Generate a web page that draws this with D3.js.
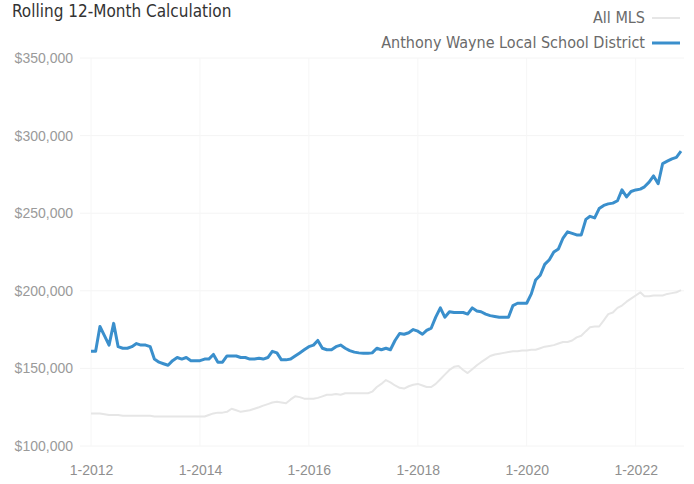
<!DOCTYPE html>
<html>
<head>
<meta charset="utf-8">
<script src="https://cdn.jsdelivr.net/npm/d3@7"></script>
<style>
  html, body { margin: 0; padding: 0; background: #fff; }
  svg { display: block; font-family: "Liberation Sans Narrow", "DejaVu Sans Condensed", "Liberation Sans", sans-serif; }
</style>
</head>
<body>
<svg id="chart" width="694" height="484"></svg>
<script>
// Monthly median sale price, rolling 12 months, Jan 2012 – Nov 2022 (in $1,000s)
const startMonth = new Date(2012, 0, 1);

const districtValues = [
  161, 161, 177, 171, 165, 179, 164, 163, 163, 164, 166, 165,
  165, 164, 156, 154, 153, 152, 155, 157, 156, 157, 155, 155,
  155, 156, 156, 159, 154, 154, 158, 158, 158, 157, 157, 156,
  156, 156.5, 156, 157, 161, 160, 155.5, 155.5, 156, 158, 160, 162,
  164, 165, 168, 163, 162, 162, 164, 165, 163, 161.5, 160.5, 160,
  159.7, 159.7, 160, 163, 162, 163, 162, 168, 172.5, 172, 173, 175,
  174, 172, 174.5, 176, 183, 189, 183, 186.5, 186, 186, 186, 185,
  189, 187, 186.5, 185, 184, 183.5, 183, 183, 183, 190.5, 192, 192,
  192, 198, 207, 210, 217, 220, 225, 227, 234, 238, 237, 236,
  236, 246, 248, 247, 253, 255, 256, 256.5, 258, 265, 260.5, 264,
  265, 265.5, 267, 270, 274, 269, 282, 283.5, 285, 286, 290
];

const allMlsValues = [
  121, 121, 121, 120.5, 120, 120, 120, 119.5, 119.5, 119.5, 119.5, 119.5,
  119.5, 119.5, 119, 119, 119, 119, 119, 119, 119, 119, 119, 119,
  119, 119, 120, 121, 121.5, 121.5, 122, 124, 123, 122, 122.5, 123,
  124, 125, 126, 127, 128, 128.5, 128, 127.5, 130, 132, 131.5, 130.5,
  130.5, 130.5, 131, 132, 133, 133, 133.5, 133, 134, 134, 134, 134,
  134, 134, 135, 138, 140, 142.5, 141, 139, 137.5, 137, 138.5, 139.5,
  140, 139, 138, 138, 140, 143, 146, 149, 151, 151.5, 149, 147,
  149.5, 152, 154, 156, 158, 159, 159.5, 160, 160.5, 161, 161, 161.5,
  161.5, 162, 162, 163, 164, 164.5, 165, 166, 167, 167, 168, 170,
  171, 174, 176.5, 177, 177, 181, 185, 186, 189, 190.5, 193, 195,
  197, 199, 196.5, 196.5, 197, 197, 197, 198, 198.5, 199, 200.5
];

const yTicks = [100000, 150000, 200000, 250000, 300000, 350000];
const xTickYears = [2012, 2014, 2016, 2018, 2020, 2022];
const seriesNames = ["All MLS", "Anthony Wayne Local School District"];
const seriesColors = ["#e6e6e6", "#3a8fcc"];

const months = districtValues.map((_, i) => new Date(2012, i, 1));
const districtData = districtValues.map((v, i) => ({ date: months[i], value: v * 1000 }));
const mlsData = allMlsValues.map((v, i) => ({ date: months[i], value: v * 1000 }));

const svg = d3.select("#chart");

const x = d3.scaleTime()
  .domain([startMonth, months[months.length - 1]])
  .range([91, 681]);

const y = d3.scaleLinear()
  .domain([100000, 350000])
  .range([446, 58]);

// faint grid
const grid = svg.append("g");
grid.selectAll("line.h").data(yTicks).join("line")
  .attr("x1", 80).attr("x2", 684)
  .attr("y1", d => y(d)).attr("y2", d => y(d))
  .attr("stroke", "#f4f4f4").attr("stroke-width", 1);
grid.selectAll("line.v").data(xTickYears).join("line")
  .attr("x1", d => x(new Date(d, 0, 1))).attr("x2", d => x(new Date(d, 0, 1)))
  .attr("y1", 58).attr("y2", 446)
  .attr("stroke", "#f6f6f6").attr("stroke-width", 1);

// y axis labels
const yAxis = d3.axisLeft(y)
  .tickValues(yTicks)
  .tickSize(0)
  .tickPadding(0)
  .tickFormat(d => "$" + d3.format(",")(d));
svg.append("g")
  .attr("transform", "translate(73,0)")
  .call(yAxis)
  .call(g => g.select(".domain").remove())
  .call(g => g.selectAll("text").attr("fill", "#9a9a9a").attr("font-size", 14).attr("font-family", "inherit"));

// x axis labels
const xAxis = d3.axisBottom(x)
  .tickValues(xTickYears.map(yr => new Date(yr, 0, 1)))
  .tickSize(0)
  .tickPadding(0)
  .tickFormat(d => "1-" + d.getFullYear());
svg.append("g")
  .attr("transform", "translate(0,465)")
  .call(xAxis)
  .call(g => g.select(".domain").remove())
  .call(g => g.selectAll("text").attr("fill", "#8f8f8f").attr("font-size", 14).attr("font-family", "inherit"));

const line = d3.line()
  .x(d => x(d.date))
  .y(d => y(d.value));

svg.append("path")
  .datum(mlsData)
  .attr("fill", "none")
  .attr("stroke", seriesColors[0])
  .attr("stroke-width", 2)
  .attr("stroke-linejoin", "round")
  .attr("d", line);

svg.append("path")
  .datum(districtData)
  .attr("fill", "none")
  .attr("stroke", seriesColors[1])
  .attr("stroke-width", 3)
  .attr("stroke-linejoin", "round")
  .attr("d", line);

// title
svg.append("text")
  .attr("x", 12).attr("y", 17)
  .attr("fill", "#333")
  .attr("font-size", 17)
  .text("Rolling 12-Month Calculation");

// legend
const legend = svg.append("g");
seriesNames.forEach((name, i) => {
  const cy = 17 + i * 25;
  legend.append("text")
    .attr("x", 645).attr("y", cy)
    .attr("dy", "0.35em")
    .attr("text-anchor", "end")
    .attr("fill", "#6a6a6a")
    .attr("font-size", 16)
    .text(name);
  legend.append("line")
    .attr("x1", 652).attr("x2", 680)
    .attr("y1", cy + 1).attr("y2", cy + 1)
    .attr("stroke", seriesColors[i])
    .attr("stroke-width", i === 0 ? 2 : 3);
});
</script>
</body>
</html>
